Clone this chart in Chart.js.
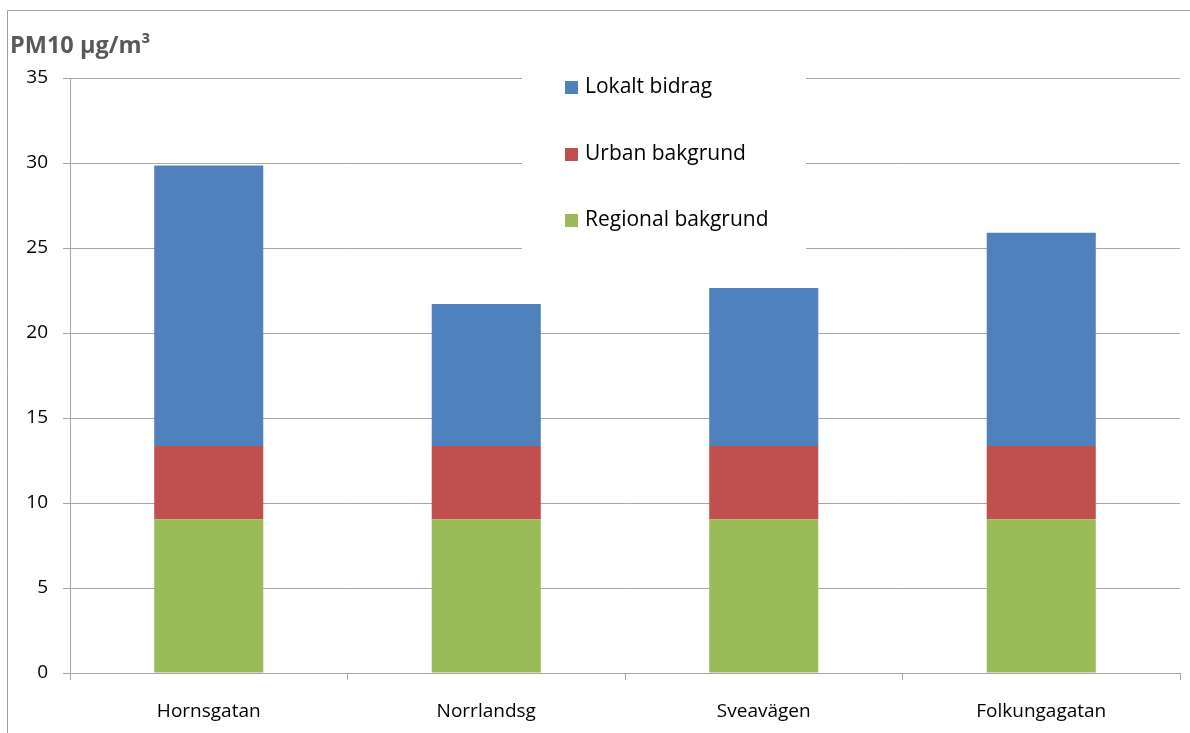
<!DOCTYPE html>
<html>
<head>
<meta charset="utf-8">
<script src="https://cdn.jsdelivr.net/npm/chart.js@4"></script>
<style>
  html, body { margin: 0; padding: 0; background: #fff; }
  #wrap { width: 1190px; height: 733px; position: relative; }
</style>
</head>
<body>
<div id="wrap"><canvas id="chart" width="1190" height="733"></canvas></div>
<script>
// data
var sites = ['Hornsgatan', 'Norrlandsg', 'Sveavägen', 'Folkungagatan'];
var regional = [9.05, 9.05, 9.05, 9.05];
var urban = [4.3, 4.3, 4.3, 4.3];
var lokalt = [16.5, 8.35, 9.3, 12.55];
var yTitle = 'PM10 µg/m³';

var fontFam = "'Open Sans', 'Liberation Sans', sans-serif";
var gridCol = '#a6a6a6';

// frame, y title and the boxed legend, drawn by hand
var extras = {
    id: 'extras',
    beforeDraw: function(c) {
        var ctx = c.ctx;
        ctx.save();
        ctx.strokeStyle = '#a0a0a0';
        ctx.lineWidth = 1;
        ctx.beginPath();
        ctx.moveTo(7.5, 733);
        ctx.lineTo(7.5, 10.5);
        ctx.lineTo(1190, 10.5);
        ctx.stroke();
        ctx.fillStyle = '#595959';
        ctx.font = 'bold 23.5px ' + fontFam;
        ctx.textBaseline = 'middle';
        ctx.fillText(yTitle, 10, 46);
        ctx.restore();
    },
    afterDatasetsDraw: function(c) {
        var ctx = c.ctx;
        ctx.save();
        ctx.fillStyle = '#fff';
        ctx.fillRect(522, 70, 284, 182);
        var rows = [87, 154, 220];
        var sets = c.data.datasets.slice().reverse();
        ctx.font = '21px ' + fontFam;
        ctx.textBaseline = 'middle';
        sets.forEach(function(ds, i) {
            ctx.fillStyle = ds.backgroundColor;
            ctx.fillRect(565, rows[i] - 6, 13, 13);
            ctx.fillStyle = '#000';
            ctx.fillText(ds.label, 585, rows[i]);
        });
        ctx.restore();
    }
};

var ctx = document.getElementById('chart').getContext('2d');
var chart = new Chart(ctx, {
    type: 'bar',
    data: {
        labels: sites,
        datasets: [
            { label: 'Regional bakgrund', data: regional, backgroundColor: '#9bbb59' },
            { label: 'Urban bakgrund', data: urban, backgroundColor: '#c0504d' },
            { label: 'Lokalt bidrag', data: lokalt, backgroundColor: '#4f81bd' }
        ]
    },
    options: {
        responsive: false,
        animation: false,
        layout: { padding: { left: 0, right: 10, top: 78, bottom: 0 } },
        datasets: {
            bar: { categoryPercentage: 1, barPercentage: 0.393, borderWidth: 0 }
        },
        plugins: {
            legend: { display: false },
            tooltip: { enabled: false }
        },
        scales: {
            x: {
                stacked: true,
                afterFit: function(s) { s.height = 60; },
                grid: { offset: true, drawOnChartArea: false, color: gridCol, tickLength: 7 },
                border: { color: gridCol },
                ticks: { color: '#000', font: { family: fontFam, size: 19 }, padding: 20 }
            },
            y: {
                stacked: true,
                min: 0,
                max: 35,
                afterFit: function(s) { s.width = 70; },
                grid: { color: gridCol, tickLength: 7 },
                border: { color: gridCol },
                ticks: { stepSize: 5, color: '#000', font: { family: fontFam, size: 19 }, padding: 15 }
            }
        }
    },
    plugins: [extras]
});
</script>
</body>
</html>
